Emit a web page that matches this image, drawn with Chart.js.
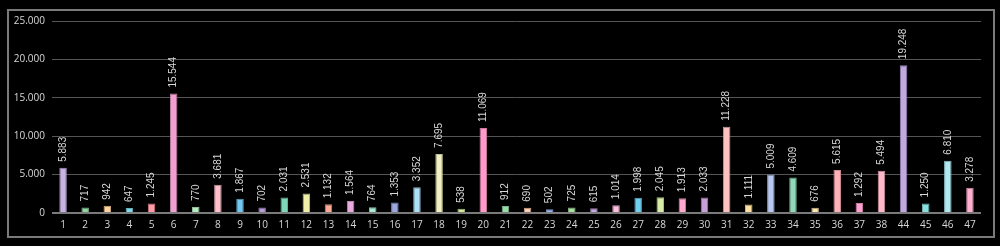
<!DOCTYPE html>
<html>
<head>
<meta charset="utf-8">
<script src="https://cdn.jsdelivr.net/npm/chart.js@4/dist/chart.umd.min.js"></script>
<style>
  html, body { margin: 0; padding: 0; background: #000; }
  #wrap { position: relative; width: 1000px; height: 246px; background: #000; }
  #frame { position: absolute; left: 7px; top: 9px; width: 984px; height: 225px; border: 2px solid #7a7a7a; pointer-events: none; }
  canvas { position: absolute; left: 0; top: 0; }
</style>
</head>
<body>
<div id="wrap">
  <canvas id="c" width="1000" height="246"></canvas>
  <div id="frame"></div>
</div>
<script>
const categories = ['1','2','3','4','5','6','7','8','9','10','11','12','13','14','15','16','17','18','19','20','21','22','23','24','25','26','27','28','29','30','31','32','33','34','35','36','37','38','44','45','46','47'];
const values = [5883,717,942,647,1245,15544,770,3681,1867,702,2031,2531,1132,1564,764,1353,3352,7695,538,11069,912,690,502,725,615,1014,1998,2045,1913,2033,11228,1111,5009,4609,676,5615,1292,5494,19248,1250,6810,3278];
const barColors = ['#c9b3e6','#8fd6a3','#ffd39e','#7fd8e8','#ff9aa6','#f0a0d0','#b8ecc0','#ffc0cc','#72c8f0','#b79ad8','#7fd6b8','#f0f0a8','#ffaa99','#e8aadf','#a8ecd8','#9da8e0','#aee0f8','#f0f0c0','#d0ec9a','#ff9ac8','#98dcaa','#ffd0b0','#9ab8f0','#a8e0a0','#c8a8e0','#ffc0e0','#70d0f0','#d8eca8','#ffa8d0','#c8a0d8','#ffc0c0','#ffe0a0','#b8c8f0','#90d8b8','#ffe8b0','#ffb0b8','#ffa0d0','#ffb8c8','#c0a8e0','#88e0e0','#b0e8f0','#ffb0d0'];
const yTicks = [0,5000,10000,15000,20000,25000];

function fmt(v) {
  return String(Math.round(v)).replace(/\B(?=(\d{3})+(?!\d))/g, '.');
}
function darken(hex, f) {
  const n = parseInt(hex.slice(1), 16);
  const r = Math.round(((n >> 16) & 255) * f), g = Math.round(((n >> 8) & 255) * f), b = Math.round((n & 255) * f);
  return 'rgb(' + r + ',' + g + ',' + b + ')';
}

const valueLabels = {
  id: 'valueLabels',
  afterDatasetsDraw(chart) {
    const ctx = chart.ctx;
    const meta = chart.getDatasetMeta(0);
    ctx.save();
    ctx.fillStyle = '#d8d8d8';
    ctx.font = '10px "Liberation Sans Narrow", "Liberation Sans", Arial, sans-serif';
    ctx.textAlign = 'left';
    ctx.textBaseline = 'middle';
    meta.data.forEach((el, i) => {
      ctx.save();
      ctx.translate(el.x, el.y - 6);
      ctx.rotate(-Math.PI / 2);
      ctx.fillText(fmt(values[i]), 0, 0);
      ctx.restore();
    });
    ctx.restore();
  }
};

new Chart(document.getElementById('c'), {
  type: 'bar',
  data: {
    labels: categories,
    datasets: [{
      data: values,
      backgroundColor: barColors,
      borderColor: barColors.map(c => darken(c, 0.8)),
      borderWidth: 1,
      barPercentage: 0.34,
      categoryPercentage: 1.0
    }]
  },
  options: {
    responsive: false,
    animation: false,
    devicePixelRatio: 1,
    layout: { padding: { left: 0, right: 19, top: 21, bottom: 0 } },
    plugins: { legend: { display: false }, tooltip: { enabled: false } },
    scales: {
      x: {
        grid: { display: false, drawTicks: false },
        border: { display: false },
        ticks: { color: '#d8d8d8', padding: 6, maxRotation: 0, autoSkip: false, font: { family: '"Open Sans", "Liberation Sans", sans-serif', size: 10 } },
        afterFit(scale) { scale.height = 33; }
      },
      y: {
        z: 1,
        min: 0,
        max: 25000,
        afterBuildTicks(scale) { scale.ticks = yTicks.map(v => ({ value: v })); },
        grid: {
          drawTicks: false,
          color: ctx => (ctx.tick && ctx.tick.value === 0) ? '#7a7a7a' : '#555555',
          lineWidth: ctx => (ctx.tick && ctx.tick.value === 0) ? 2 : 1
        },
        border: { display: false },
        ticks: { color: '#d8d8d8', padding: 7, callback: v => fmt(v), font: { family: '"Open Sans", "Liberation Sans", sans-serif', size: 10 } },
        afterFit(scale) { scale.width = 52; }
      }
    }
  },
  plugins: [valueLabels]
});
</script>
</body>
</html>
